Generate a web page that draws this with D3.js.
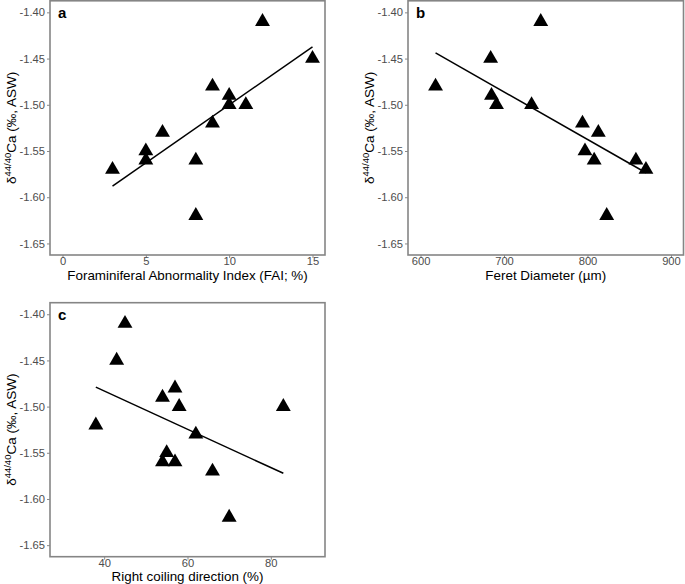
<!DOCTYPE html>
<html><head><meta charset="utf-8">
<script src="https://cdn.jsdelivr.net/npm/d3@7"></script>
<style>body{margin:0;background:#fff}svg{display:block}</style>
</head><body>
<script>
// ---- data ----
const dCa_a = [-1.57,-1.55,-1.56,-1.53,-1.56,-1.62,-1.48,-1.52,-1.49,-1.50,-1.50,-1.41,-1.45];
const fai   = [3,5,5,6,8,8,9,9,10,10,11,12,15];
const dCa_b = [-1.48,-1.45,-1.49,-1.50,-1.50,-1.41,-1.52,-1.55,-1.53,-1.56,-1.56,-1.57,-1.62];
const feret = [618,684,685,691,733,744,794,797,813,808,858,870,823];
const dCa_c = [-1.52,-1.45,-1.41,-1.49,-1.48,-1.50,-1.53,-1.55,-1.56,-1.56,-1.57,-1.62,-1.50];
const coil  = [38,43,45,54,57,58,62,55,54,57,66,70,83];
const yTicks = [-1.40,-1.45,-1.50,-1.55,-1.60,-1.65];
const xTicksA = [0,5,10,15];
const xTicksB = [600,700,800,900];
const xTicksC = [40,60,80];

const W=685,H=584;
const svg=d3.select("body").append("svg").attr("width",W).attr("height",H);
const FONT="Liberation Sans, Arial, sans-serif";

function panel(o){
  const g=svg.append("g");
  const x=d3.scaleLinear().domain(o.xdom).range([o.x0,o.x1]);
  const y=d3.scaleLinear().domain([-1.6625,-1.3875]).range([o.y1,o.y0]);
  // axes
  const ax=g.append("g").attr("transform",`translate(0,${o.y1})`)
    .call(d3.axisBottom(x).tickValues(o.xticks).tickSize(3).tickPadding(-1).tickFormat(d3.format("d")));
  const ay=g.append("g").attr("transform",`translate(${o.x0},0)`)
    .call(d3.axisLeft(y).tickValues(yTicks).tickSize(3).tickPadding(2).tickFormat(d3.format(".2f")));
  [ax,ay].forEach(a=>{
    a.select(".domain").remove();
    a.selectAll(".tick line").attr("stroke","#8a8a8a").attr("stroke-width",1);
    a.selectAll(".tick text").attr("fill","#4d4d4d").attr("font-size",11.2).attr("font-family",FONT);
  });
  ay.selectAll(".tick text").text(d=>d3.format(".2f")(d).replace("−","-"));
  // border
  g.append("rect").attr("x",o.x0).attr("y",o.y0).attr("width",o.x1-o.x0).attr("height",o.y1-o.y0)
    .attr("fill","none").attr("stroke","#858585").attr("stroke-width",1.6);
  // regression
  const xs=o.xv, ys=o.yv;
  const mx=d3.mean(xs), my=d3.mean(ys);
  const sxy=d3.sum(xs,(v,i)=>(v-mx)*(ys[i]-my)), sxx=d3.sum(xs,v=>(v-mx)*(v-mx));
  const b=sxy/sxx, a0=my-b*mx;
  const ext=d3.extent(xs);
  g.append("line").attr("x1",x(ext[0])).attr("x2",x(ext[1]))
    .attr("y1",y(a0+b*ext[0])).attr("y2",y(a0+b*ext[1]))
    .attr("stroke","#000").attr("stroke-width",1.5);
  // points
  const sym=d3.symbol().type(d3.symbolTriangle).size(96);
  g.selectAll("path.pt").data(xs.map((v,i)=>[v,ys[i]])).join("path")
    .attr("class","pt").attr("d",sym).attr("fill","#000")
    .attr("transform",d=>`translate(${x(d[0])},${y(d[1])})`);
  // panel label
  g.append("text").attr("x",o.x0+8).attr("y",o.y0+17).text(o.label)
    .attr("font-family",FONT).attr("font-weight","bold").attr("font-size",15);
  // x title
  g.append("text").attr("x",(o.x0+o.x1)/2).attr("y",o.y1+o.tdy).attr("text-anchor","middle")
    .attr("font-family",FONT).attr("font-size",13.4).text(o.xtitle);
  // y title
  const cy=(o.y0+o.y1)/2, tx=o.x0-34;
  const t=g.append("text").attr("transform",`translate(${tx},${cy}) rotate(-90)`)
    .attr("text-anchor","middle").attr("font-family",FONT).attr("font-size",13.5);
  t.append("tspan").text("δ");
  t.append("tspan").attr("dy",-5).attr("font-size",9.5).text("44/40");
  t.append("tspan").attr("dy",5).text("Ca (‰, ASW)");
}

panel({x0:50,x1:325,y0:0.8,y1:255,xdom:[-0.75,15.75],xticks:xTicksA,xv:fai,yv:dCa_a,label:"a",tdy:25,
  xtitle:"Foraminiferal Abnormality Index (FAI; %)"});
panel({x0:408,x1:683.5,y0:0.8,y1:255,xdom:[585,915],xticks:xTicksB,xv:feret,yv:dCa_b,label:"b",tdy:25,
  xtitle:"Feret Diameter (µm)"});
panel({x0:50,x1:325,y0:302.7,y1:556.7,xdom:[27,93],xticks:xTicksC,xv:coil,yv:dCa_c,label:"c",tdy:24,
  xtitle:"Right coiling direction (%)"});
</script>
</body></html>
